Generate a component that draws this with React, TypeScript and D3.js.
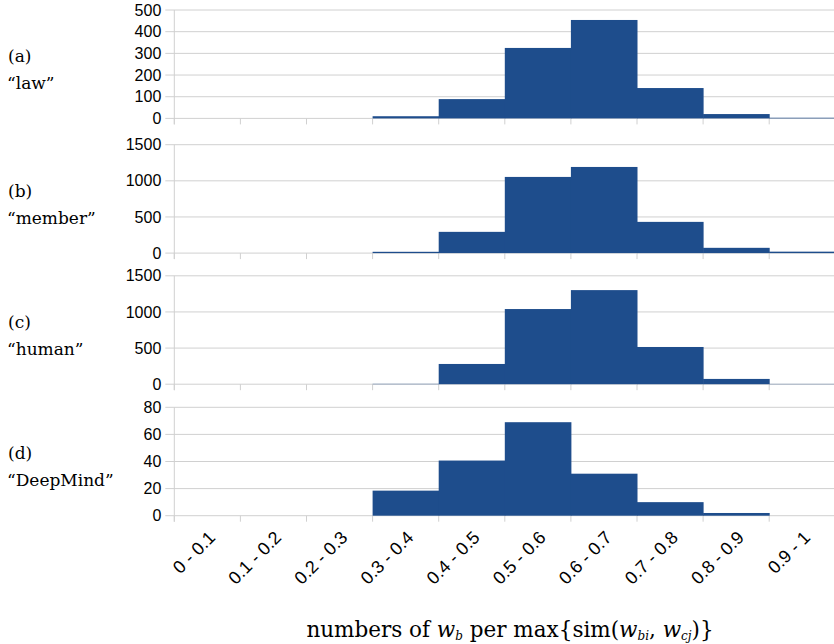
import React from "react";
import * as d3 from "d3";

const categories = ["0 - 0.1", "0.1 - 0.2", "0.2 - 0.3", "0.3 - 0.4", "0.4 - 0.5", "0.5 - 0.6", "0.6 - 0.7", "0.7 - 0.8", "0.8 - 0.9", "0.9 - 1"];
const panelLetters = ["(a)", "(b)", "(c)", "(d)"];
const panelWords = ["\u201claw\u201d", "\u201cmember\u201d", "\u201chuman\u201d", "\u201cDeepMind\u201d"];
const lawValues = [0, 0, 0, 10, 89, 325, 454, 140, 20, 3];
const memberValues = [0, 0, 0, 18, 294, 1054, 1192, 432, 73, 20];
const humanValues = [0, 0, 0, 5, 280, 1040, 1302, 515, 73, 4];
const deepMindValues = [0, 0, 0, 18.5, 40.7, 69, 31, 10, 2, 0];
const yMaxes = [500, 1500, 1500, 80];
const yTicks = [
  [0, 100, 200, 300, 400, 500],
  [0, 500, 1000, 1500],
  [0, 500, 1000, 1500],
  [0, 20, 40, 60, 80],
];
const seriesValues = [lawValues, memberValues, humanValues, deepMindValues];

const W = 834;
const H = 644;
const panelTops = [10, 144.7, 275.8, 407.3];
const panelH = 108.4;
const plotLeft = 174.3;
const plotRight = 835.3;
const barColor = "#1e4d8c";
const gridColor = "#d0d0d0";
const sans = "'Liberation Sans', Arial, sans-serif";
const serif = "'DejaVu Serif', serif";

export default function App() {
  const x = d3.scaleBand<string>().domain(categories).range([plotLeft, plotRight]).padding(0);
  const boundaries = categories.map((c) => x(c) as number);

  return (
    <svg width={W} height={H} style={{ position: "absolute", left: 0, top: 0, background: "#fff" }}>
      {seriesValues.map((vals, pi) => {
        const top = panelTops[pi];
        const y = d3.scaleLinear().domain([0, yMaxes[pi]]).range([top + panelH, top]);
        const y0 = y(0);
        return (
          <g key={pi}>
            {yTicks[pi].map((t) => (
              <g key={t}>
                <line x1={plotLeft - 9} x2={W} y1={y(t)} y2={y(t)} stroke={gridColor} strokeWidth={1} />
                <text x={plotLeft - 13} y={y(t)} dy="0.35em" textAnchor="end" fontFamily={sans} fontSize={16} fill="#000">
                  {t}
                </text>
              </g>
            ))}
            <line x1={plotLeft} x2={plotLeft} y1={top} y2={y0 + 6} stroke={gridColor} strokeWidth={1} />
            {boundaries.map((b, i) => (
              <line key={i} x1={b} x2={b} y1={y0} y2={y0 + 6} stroke={gridColor} strokeWidth={1} />
            ))}
            {vals.map((v, i) =>
              v > 0 ? (
                <rect
                  key={i}
                  x={x(categories[i]) as number}
                  width={x.bandwidth() + 0.5}
                  y={y(v)}
                  height={y0 - y(v)}
                  fill={barColor}
                />
              ) : null
            )}
            <text x={8} y={top + 52} fontFamily={serif} fontSize={17} fill="#000">
              {panelLetters[pi]}
            </text>
            <text x={7} y={top + 79} fontFamily={serif} fontSize={17} fill="#000">
              {panelWords[pi]}
            </text>
          </g>
        );
      })}
      {categories.map((c) => {
        const cx = (x(c) as number) + x.bandwidth() / 2;
        const cy = panelTops[3] + panelH + 23;
        return (
          <text
            key={c}
            transform={`translate(${cx + 9},${cy}) rotate(-45)`}
            textAnchor="end"
            fontFamily={sans}
            fontSize={18}
            fill="#000"
          >
            {c}
          </text>
        );
      })}
      <text x={510} y={637} textAnchor="middle" fontFamily={serif} fontSize={21.5} fill="#000">
        <tspan>numbers of </tspan>
        <tspan fontStyle="italic">w</tspan>
        <tspan fontStyle="italic" fontSize={12} dy={3}>b</tspan>
        <tspan dy={-3}> per max{"{"}sim(</tspan>
        <tspan fontStyle="italic">w</tspan>
        <tspan fontStyle="italic" fontSize={12} dy={3}>bi</tspan>
        <tspan dy={-3}>, </tspan>
        <tspan fontStyle="italic">w</tspan>
        <tspan fontStyle="italic" fontSize={12} dy={3}>cj</tspan>
        <tspan dy={-3}>){"}"}</tspan>
      </text>
    </svg>
  );
}
